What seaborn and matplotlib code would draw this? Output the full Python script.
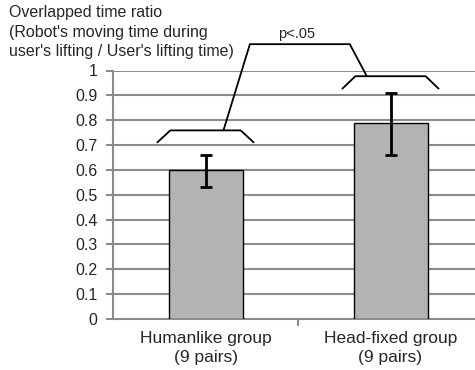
import matplotlib
matplotlib.use("Agg")
import matplotlib.pyplot as plt
import seaborn as sns
import pandas as pd
import numpy as np

categories = ["Humanlike group\n(9 pairs)", "Head-fixed group\n(9 pairs)"]
values = [0.60, 0.79]
err_low = [0.53, 0.66]
err_high = [0.66, 0.91]
yticks = [0, 0.1, 0.2, 0.3, 0.4, 0.5, 0.6, 0.7, 0.8, 0.9, 1.0]
ytick_labels = ["0", "0.1", "0.2", "0.3", "0.4", "0.5", "0.6", "0.7", "0.8", "0.9", "1"]
ylabel = "Overlapped time ratio\n(Robot's moving time during\nuser's lifting / User's lifting time)"
sig_text = "p<.05"

sns.set_theme(style="white")
plt.rcParams['font.family'] = ['Liberation Sans', 'DejaVu Sans']

df = pd.DataFrame({"group": categories, "value": values})

fig = plt.figure(figsize=(4.75, 3.7), dpi=100)
ax = fig.add_axes([113/475, 51/370, 370/475, 248.5/370])

grid_col = "#8c8c8c"
sns.barplot(data=df, x="group", y="value", ax=ax, color="#b3b3b3",
            edgecolor="black", linewidth=1.0, width=0.4, errorbar=None,
            saturation=1, zorder=3)

xpos = np.arange(len(values))
vals = np.array(values)
lo = vals - np.array(err_low)
hi = np.array(err_high) - vals
ax.errorbar(xpos, vals, yerr=[lo, hi], fmt="none", ecolor="black",
            elinewidth=2, capsize=4, capthick=2, zorder=4)

ax.set_xlim(-0.5, 1.5)
ax.set_ylim(0, 1)
ax.set_yticks(yticks)
ax.set_yticklabels(ytick_labels, fontsize=11.5)
ax.set_xticks(xpos)
ax.set_xticklabels(categories, fontsize=12.5, linespacing=1.3)
ax.set_xlabel("")
ax.set_ylabel("")
ax.tick_params(axis="x", length=0, pad=9)
ax.tick_params(axis="y", length=5, width=1.5, color=grid_col, direction="out", pad=6, left=True)
# minor tick between categories
ax.set_xticks([0.5], minor=True)
ax.tick_params(axis="x", which="minor", length=5, width=1.5, color=grid_col, direction="out", bottom=True)

for y in yticks[1:]:
    ax.axhline(y, color=grid_col, lw=1.5, zorder=1)
for s in ["top", "right"]:
    ax.spines[s].set_visible(False)
for s in ["left", "bottom"]:
    ax.spines[s].set_color(grid_col)
    ax.spines[s].set_linewidth(1.5)

# brackets
def bracket(xc, y_end, y_top, half_out=0.26, half_in=0.19):
    ax.plot([xc - half_out, xc - half_in, xc + half_in, xc + half_out],
            [y_end, y_top, y_top, y_end], color="black", lw=1.3,
            clip_on=False, zorder=5)

bracket(xpos[0], 0.711, 0.759)
bracket(xpos[1], 0.927, 0.977)
ax.plot([xpos[0] + 0.097, 0.24, 0.78, xpos[1] - 0.128],
        [0.759, 1.106, 1.106, 0.977], color="black", lw=1.3,
        clip_on=False, zorder=5)
ax.text(0.49, 1.145, sig_text, ha="center", va="center", fontsize=10.5)

fig.text(9/475, 1 - 5/370, ylabel, ha="left", va="top", fontsize=11.5,
         linespacing=1.38)

fig.savefig("out.png", dpi=100)
